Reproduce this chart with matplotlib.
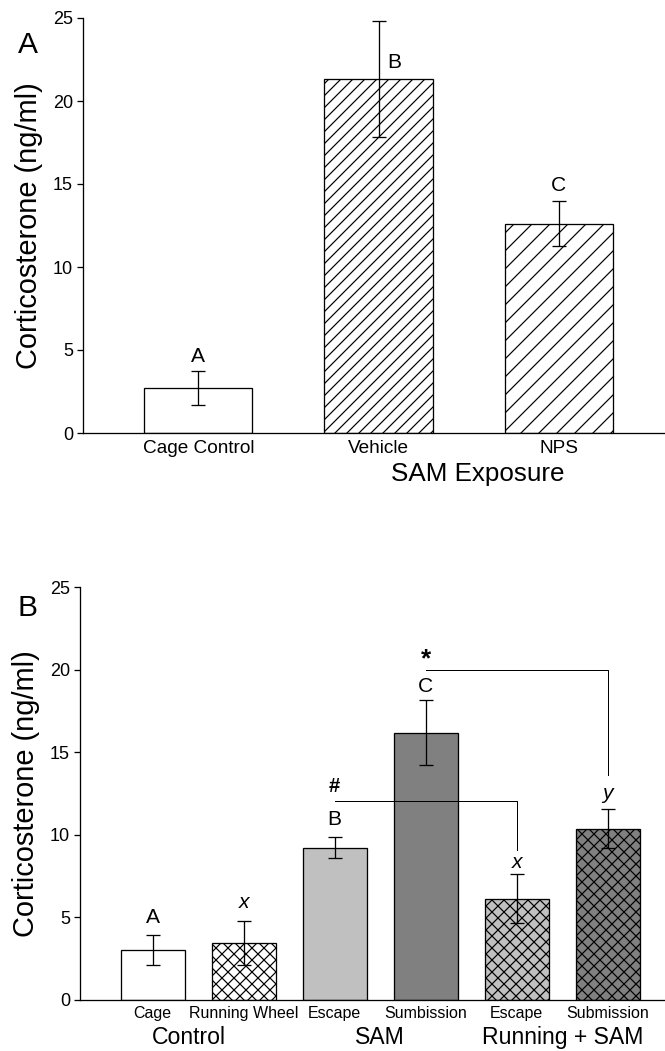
import warnings
import numpy as np
import matplotlib
matplotlib.use("Agg")
import matplotlib.pyplot as plt
from matplotlib import hatch as mhatch

warnings.filterwarnings("ignore")
plt.rcParams['font.family'] = ['Liberation Sans', 'DejaVu Sans']
plt.rcParams['hatch.linewidth'] = 1.2


# medium-density diagonal hatch (between '/' and '//'), selected by the char 'n'
class MediumNorthEastHatch(mhatch.NorthEastHatch):
    def __init__(self, hatch, density):
        self.num_lines = int(hatch.count('n') * density * 4 / 3)
        self.num_vertices = (self.num_lines + 1) * 2 if self.num_lines else 0


mhatch._hatch_types.append(MediumNorthEastHatch)

# ---- Panel A data ----
a_cats = ["Cage Control", "Vehicle", "NPS"]
a_vals = [2.74, 21.32, 12.6]
a_lo = [1.68, 17.82, 11.24]
a_hi = [3.74, 24.8, 13.98]
a_letters = ["A", "B", "C"]
a_letter_y = [4.6, 22.3, 14.9]

# ---- Panel B data ----
b_cats = ["Cage", "Running Wheel", "Escape", "Sumbission", "Escape", "Submission"]
b_vals = [3.05, 3.47, 9.22, 16.19, 6.13, 10.36]
b_lo = [2.14, 2.14, 8.58, 14.23, 4.65, 9.18]
b_hi = [3.95, 4.81, 9.86, 18.18, 7.62, 11.56]
b_letters = ["A", "x", "B", "C", "x", "y"]
b_letter_y = [5.0, 5.9, 10.9, 19.0, 8.3, 12.5]
b_groups = ["Control", "SAM", "Running + SAM"]

DPI = 72
fig = plt.figure(figsize=(665 / DPI, 1051 / DPI), dpi=DPI)


def style_axis(ax):
    ax.spines['top'].set_visible(False)
    ax.spines['right'].set_visible(False)
    for s in ('left', 'bottom'):
        ax.spines[s].set_linewidth(1.3)
    ax.set_ylim(0, 25)
    ax.set_yticks([0, 5, 10, 15, 20, 25])
    ax.tick_params(axis='y', direction='out', length=6, width=1.3, labelsize=18, pad=4)
    ax.tick_params(axis='x', length=0, labelsize=19, pad=7)


# ---------------- Panel A ----------------
axA = fig.add_axes([83 / 665, 1 - 433 / 1051, (665 - 83) / 665, 415 / 1051])
style_axis(axA)
xa = list(range(len(a_cats)))
a_hatch = [None, '//', 'n']
for i in xa:
    axA.bar(i, a_vals[i], width=0.6, color='white', edgecolor='black',
            linewidth=1.3, hatch=a_hatch[i], zorder=2)
axA.errorbar(xa, a_vals,
             yerr=[[v - l for v, l in zip(a_vals, a_lo)], [h - v for v, h in zip(a_vals, a_hi)]],
             fmt='none', ecolor='black', elinewidth=1.3, capsize=7, capthick=1.3, zorder=3)
axA.set_xlim(-0.64, 2.59)
axA.set_xticks(xa)
axA.set_xticklabels(a_cats)
a_dx = [0, 0.085, 0]
for i in xa:
    axA.text(i + a_dx[i], a_letter_y[i], a_letters[i], ha='center', va='center', fontsize=21)
axA.text(1.55, -2.47, "SAM Exposure", ha='center', va='center', fontsize=26)
axA.set_ylabel("Corticosterone (ng/ml)", fontsize=29, labelpad=10)
fig.text(28 / 665, 1 - 45 / 1051, "A", ha='center', va='center', fontsize=30)

# ---------------- Panel B ----------------
axB = fig.add_axes([80 / 665, 1 - 1000 / 1051, (665 - 80) / 665, 413 / 1051])
style_axis(axB)
xb = list(range(len(b_cats)))
b_colors = ['white', 'white', '#c0c0c0', '#808080', '#c0c0c0', '#808080']
b_hatch = [None, 'xx', None, None, 'xx', 'xx']
for i in xb:
    axB.bar(i, b_vals[i], width=0.7, color=b_colors[i], edgecolor='black',
            linewidth=1.3, hatch=b_hatch[i], zorder=2)
axB.errorbar(xb, b_vals,
             yerr=[[v - l for v, l in zip(b_vals, b_lo)], [h - v for v, h in zip(b_vals, b_hi)]],
             fmt='none', ecolor='black', elinewidth=1.3, capsize=7, capthick=1.3, zorder=3)
axB.set_xlim(-0.80, 5.63)
axB.set_xticks(xb)
axB.set_xticklabels(b_cats, fontsize=16)
axB.tick_params(axis='x', pad=6)
for i in xb:
    st = 'italic' if b_letters[i] in ('x', 'y') else 'normal'
    axB.text(i, b_letter_y[i], b_letters[i], ha='center', va='center', fontsize=21, style=st)

# significance brackets
axB.plot([2, 4, 4], [12.06, 12.06, 9.06], color='black', linewidth=1.0, zorder=4)
axB.text(2, 12.9, "#", ha='center', va='center', fontsize=20, fontweight='bold')
axB.plot([3, 5, 5], [20.0, 20.0, 13.6], color='black', linewidth=1.0, zorder=4)
axB.text(3, 20.6, "*", ha='center', va='center', fontsize=26, fontweight='bold')

group_x = [0.4, 2.5, 4.5]
for gx, g in zip(group_x, b_groups):
    axB.text(gx, -2.3, g, ha='center', va='center', fontsize=23)
axB.set_ylabel("Corticosterone (ng/ml)", fontsize=29, labelpad=10)
fig.text(28 / 665, 1 - 608 / 1051, "B", ha='center', va='center', fontsize=30)

fig.savefig("out.png", dpi=DPI)
